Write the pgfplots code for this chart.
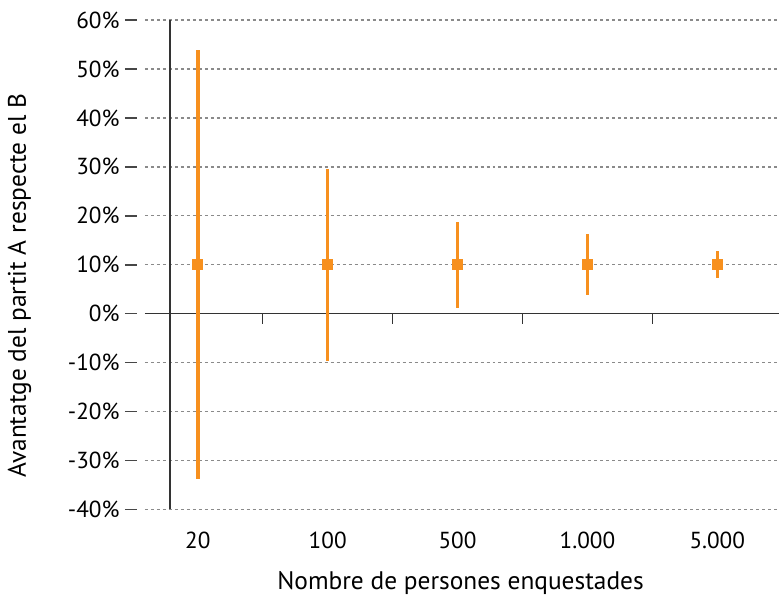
\documentclass[border=0pt]{standalone}
\usepackage{fontspec}
\setmainfont{PT Sans}
\usepackage{pgfplots}
\pgfplotsset{compat=1.18}
\definecolor{barorange}{HTML}{F7901E}
\definecolor{gridgray}{HTML}{8A8A8A}
\definecolor{axisgray}{HTML}{333333}
\begin{document}
\begin{tikzpicture}[font=\fontsize{12.7}{15}\selectfont]
\path (-72.5pt,-47.5pt) rectangle (317.5pt,255pt);
\begin{axis}[
  at={(0,0)}, anchor=south west,
  scale only axis, width=317.5pt, height=245pt,
  xmin=-0.408, xmax=4.477, ymin=-40, ymax=60,
  axis line style={draw=none},
  xtick={0,1,2,3,4}, xticklabels={20,100,500,1.000,5.000},
  ytick={-40,-30,...,60},
  /pgf/number format/assume math mode=true,
  yticklabel={\pgfmathprintnumber{\tick}\%},
  tick style={draw=none},
  ticklabel style={font=\fontsize{11.6}{14}\selectfont},
  ymajorgrids, grid style={gridgray, line width=0.7pt, dash pattern=on 1.5pt off 1.5pt},
  yticklabel style={inner sep=0pt, xshift=-12.5pt},
  xticklabel style={inner sep=0pt, yshift=-11pt},
  clip=false,
]
\draw[axisgray, line width=0.6pt] (axis cs:-0.215,-40) -- (axis cs:-0.215,60);
\draw[axisgray, line width=0.8pt] (axis cs:-0.408,0) -- (axis cs:4.477,0);
\pgfplotsinvokeforeach{0.5,1.5,2.5,3.5}{
  \draw[axisgray, line width=0.7pt] (axis cs:#1,0) -- ++(0pt,-5pt);
}
\pgfplotsinvokeforeach{-40,-30,-20,-10,0,10,20,30,40,50,60}{
  \draw[axisgray!90, line width=0.8pt] ([xshift=-10pt]axis cs:-0.408,#1) -- ([xshift=-4pt]axis cs:-0.408,#1);
}
\addplot[only marks, mark=square*, mark size=2.5pt, color=barorange,
  error bars/.cd, y dir=both, y explicit, error mark=none,
  error bar style={line width=1.7pt, color=barorange}]
  table[x=x, y=y, y error=e] {
x y e
0 10 43.8
1 10 19.6
2 10 8.8
3 10 6.2
4 10 2.8
};
\end{axis}
\node[rotate=90, anchor=base] at (-59.5pt,112pt) {Avantatge del partit A respecte el B};
\node[anchor=base] at (158pt,-40pt) {Nombre de persones enquestades};
\end{tikzpicture}
\end{document}
